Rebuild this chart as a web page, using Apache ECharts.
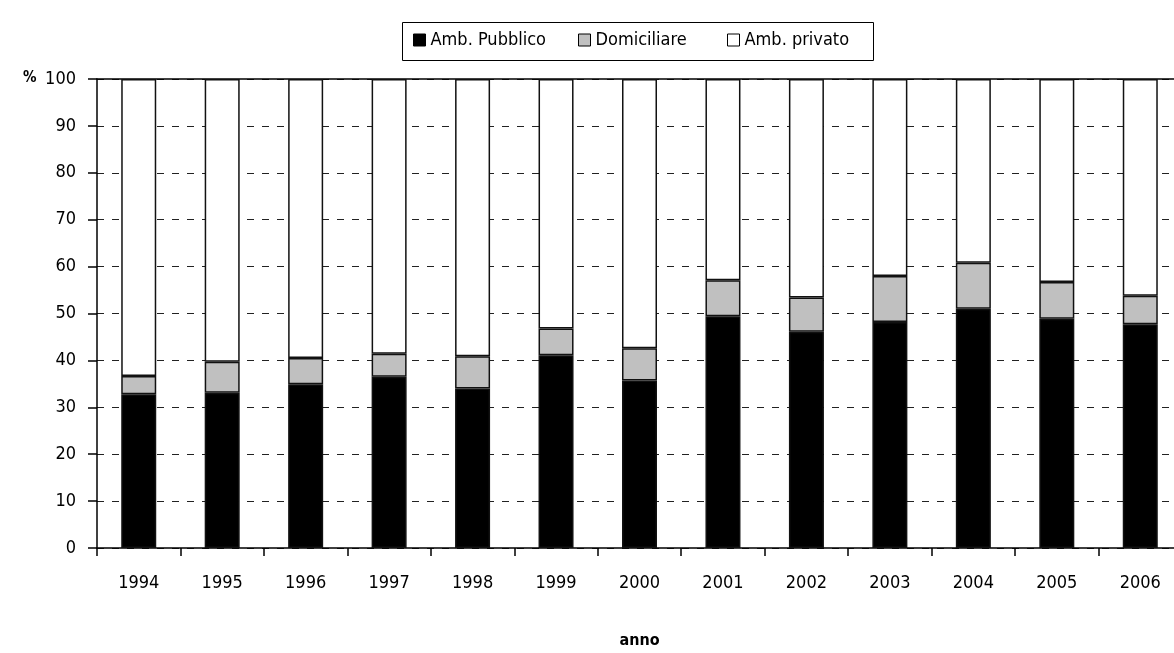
<!DOCTYPE html>
<html>
<head>
<meta charset="utf-8">
<style>
  html, body { margin: 0; padding: 0; background: #fff; }
  #chart { width: 1174px; height: 653px; }
</style>
<script src="https://cdn.jsdelivr.net/npm/echarts@6/dist/echarts.min.js"></script>
</head>
<body>
<div id="chart"></div>
<script>
// Years on the category axis
const years = ['1994','1995','1996','1997','1998','1999','2000','2001','2002','2003','2004','2005','2006'];
// Share (%) of each setting, stacked to 100
const ambPubblico = [32.8, 33.1, 34.9, 36.5, 34.0, 41.1, 35.7, 49.4, 46.1, 48.2, 51.0, 48.9, 47.7];
const domiciliare = [3.9, 6.6, 5.6, 4.9, 6.9, 5.7, 6.9, 7.7, 7.3, 9.8, 9.8, 7.8, 6.1];
const ambPrivato = [63.3, 60.3, 59.5, 58.6, 59.1, 53.2, 57.4, 42.9, 46.6, 42.0, 39.2, 43.3, 46.2];
// Value axis ticks
const yTicks = [0, 10, 20, 30, 40, 50, 60, 70, 80, 90, 100];
// Legend entries
const seriesNames = ['Amb. Pubblico', 'Domiciliare', 'Amb. privato'];

const FONT = "'DejaVu Sans Condensed', 'Liberation Sans', sans-serif";

const chart = echarts.init(document.getElementById('chart'), null, { renderer: 'canvas' });

const barStyle = (fill) => ({ color: fill, borderColor: '#111', borderWidth: 1.5 });

// one legend per entry so each key sits at its own spot inside the framed box
const legendLefts = [413, 578, 727];
const legends = seriesNames.map((name, i) => ({
  data: [name],
  left: legendLefts[i],
  top: 31,
  padding: 0,
  itemWidth: 12,
  itemHeight: 12,
  icon: 'rect',
  selectedMode: false,
  itemStyle: { borderColor: '#000', borderWidth: 1 },
  textStyle: { fontFamily: FONT, fontSize: 18, color: '#000' }
}));

chart.setOption({
  animation: false,
  backgroundColor: '#fff',
  textStyle: { fontFamily: FONT },
  // plot area runs a little past the right edge of the canvas
  grid: { left: 97, top: 79, width: 1085, height: 469, containLabel: false, outerBoundsMode: 'none' },
  legend: legends,
  xAxis: [
    {
      type: 'category',
      data: years,
      position: 'bottom',
      name: 'anno',
      nameLocation: 'middle',
      nameGap: 85,
      nameTextStyle: { fontFamily: FONT, fontSize: 16, fontWeight: 'bold', color: '#000' },
      axisLine: { lineStyle: { color: '#000', width: 1.5 } },
      axisTick: { show: true, length: 8, lineStyle: { color: '#000', width: 1.5 } },
      axisLabel: { color: '#000', fontSize: 18, margin: 26, fontFamily: FONT },
      splitLine: { show: false }
    },
    {
      type: 'category',
      data: years,
      position: 'top',
      axisLine: { show: true, lineStyle: { color: '#000', width: 1.5 } },
      axisTick: { show: false },
      axisLabel: { show: false }
    }
  ],
  yAxis: {
    type: 'value',
    min: 0,
    max: 100,
    interval: 10,
    axisLine: { show: true, lineStyle: { color: '#000', width: 1.5 } },
    axisTick: { show: true, length: 9, lineStyle: { color: '#000', width: 1.5 } },
    axisLabel: {
      color: '#000', fontSize: 18, margin: 21, fontFamily: FONT,
      formatter: (v) => (yTicks.includes(v) ? String(v) : '')
    },
    splitLine: { show: true, lineStyle: { color: '#222', width: 1, type: [7, 8] } }
  },
  graphic: [
    {
      type: 'rect',
      shape: { x: 402.5, y: 22.5, width: 471, height: 38 },
      style: { fill: 'none', stroke: '#000', lineWidth: 1 }
    },
    {
      type: 'text',
      left: 23,
      top: 71,
      style: { text: '%', fontFamily: FONT, fontSize: 15, fontWeight: 'bold', fill: '#000' }
    }
  ],
  series: [
    { name: seriesNames[0], type: 'bar', stack: 'tot', barWidth: 35, data: ambPubblico, itemStyle: barStyle('#000') },
    { name: seriesNames[1], type: 'bar', stack: 'tot', barWidth: 35, data: domiciliare, itemStyle: barStyle('#c0c0c0') },
    { name: seriesNames[2], type: 'bar', stack: 'tot', barWidth: 35, data: ambPrivato, itemStyle: barStyle('#fff') }
  ]
});
</script>
</body>
</html>
